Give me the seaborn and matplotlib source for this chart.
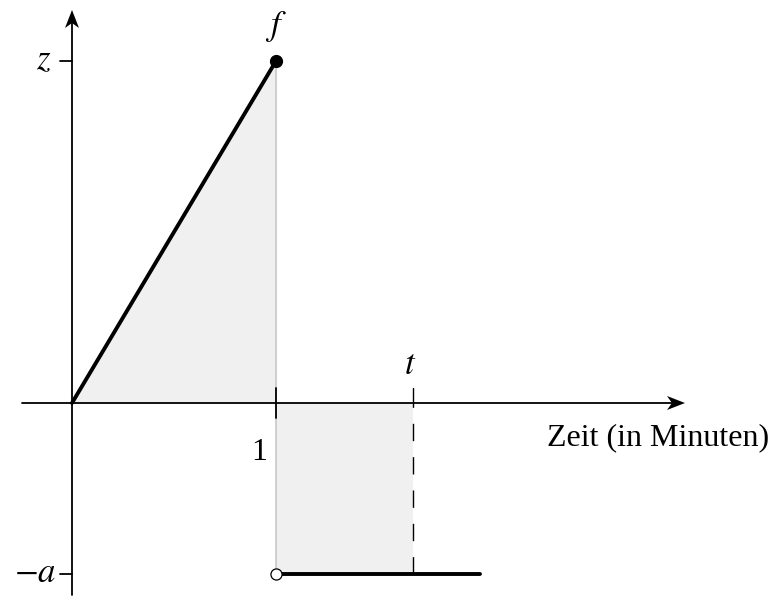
import matplotlib
matplotlib.use("Agg")
import matplotlib.pyplot as plt
import seaborn as sns
import pandas as pd
import numpy as np

sns.set_theme(style="white")
plt.rcParams['font.family'] = ['Liberation Serif', 'DejaVu Serif']
plt.rcParams['mathtext.fontset'] = 'stix'
plt.rcParams['text.color'] = 'black'

# data
z = 2.0
a = 1.0
t = 1.67
x_end = 2.0
ramp_x = [0.0, 1.0]
ramp_y = [0.0, z]
flat_x = [1.0, x_end]
flat_y = [-a, -a]

PX = 204.0   # pixels per x unit
PY = 171.0   # pixels per y unit

fig = plt.figure(figsize=(7.74, 5.97), dpi=100)
ax = fig.add_axes([0, 0, 1, 1])
ax.set_xlim(-72/PX, (774-72)/PX)
ax.set_ylim(-(597-403)/PY, 403/PY)
ax.axis('off')

# fills
ax.fill_between(ramp_x, [0, 0], ramp_y, color='#f0f0f0', lw=0, zorder=1)
ax.fill_between([1.0, t], [0, 0], [-a, -a], color='#f0f0f0', lw=0, zorder=1)

# gray vertical line at x=1
ax.plot([1, 1], [z, -a], color='#c4c4c4', lw=1.1, zorder=2)

# axes lines
ax.plot([-0.245, 2.97], [0, 0], color='black', lw=1.3, zorder=3)
ax.plot([0, 0], [-1.125, 2.27], color='black', lw=1.3, zorder=3)

# stealth-like arrow heads (in pixel units converted to data)
def head_right(x0, y0, L=18, W=7, notch=5):
    xs = [x0, x0 - L/PX, x0 - (L - notch)/PX, x0 - L/PX]
    ys = [y0, y0 + W/PY, y0, y0 - W/PY]
    ax.fill(xs, ys, color='black', lw=0, zorder=4)

def head_up(x0, y0, L=18, W=7, notch=5):
    ys = [y0, y0 - L/PY, y0 - (L - notch)/PY, y0 - L/PY]
    xs = [x0, x0 + W/PX, x0, x0 - W/PX]
    ax.fill(xs, ys, color='black', lw=0, zorder=4)

head_right((685-72)/PX, 0)
head_up(0, (403-10)/PY)

# ticks
ax.plot([-12/PX, 0], [z, z], color='black', lw=1.3, zorder=3)
ax.plot([-12/PX, 0], [-a, -a], color='black', lw=1.3, zorder=3)
ax.plot([1, 1], [15/PY, -15/PY], color='black', lw=1.3, zorder=3)
ax.plot([t, t], [15/PY, 0], color='black', lw=1.0, zorder=3)

# dashed line at t (drawn from bottom up)
ax.plot([t, t], [-a, 0], color='black', lw=1.0, dashes=(12.5, 11.5), zorder=3)

# main function lines
sns.lineplot(x=ramp_x, y=ramp_y, ax=ax, color='black', lw=2.8, zorder=4,
             estimator=None, sort=False)
sns.lineplot(x=flat_x, y=flat_y, ax=ax, color='black', lw=2.8, zorder=4,
             estimator=None, sort=False)

# endpoints
ax.plot([1], [z], 'o', ms=8.5, color='black', zorder=5)
ax.plot([1], [-a], 'o', ms=8, mfc='white', mec='black', mew=0.9, zorder=5)

# labels
fs = 23
ms = 25
ax.text(1, (403-26)/PY, r'$f$', ha='center', va='center', fontsize=ms)
ax.text(-28/PX, z, r'$z$', ha='center', va='center', fontsize=ms)
ax.text(-16/PX, -a, r'$-a$', ha='right', va='center', fontsize=ms)
ax.text((410-72)/PX, (403-366)/PY, r'$t$', ha='center', va='center', fontsize=ms)
ax.text((259-72)/PX, -(452-403)/PY, '1', ha='center', va='center', fontsize=fs)
ax.text((658-72)/PX, -(438-403)/PY, 'Zeit (in Minuten)', ha='center', va='center', fontsize=fs)

fig.savefig('out.png', dpi=100)
